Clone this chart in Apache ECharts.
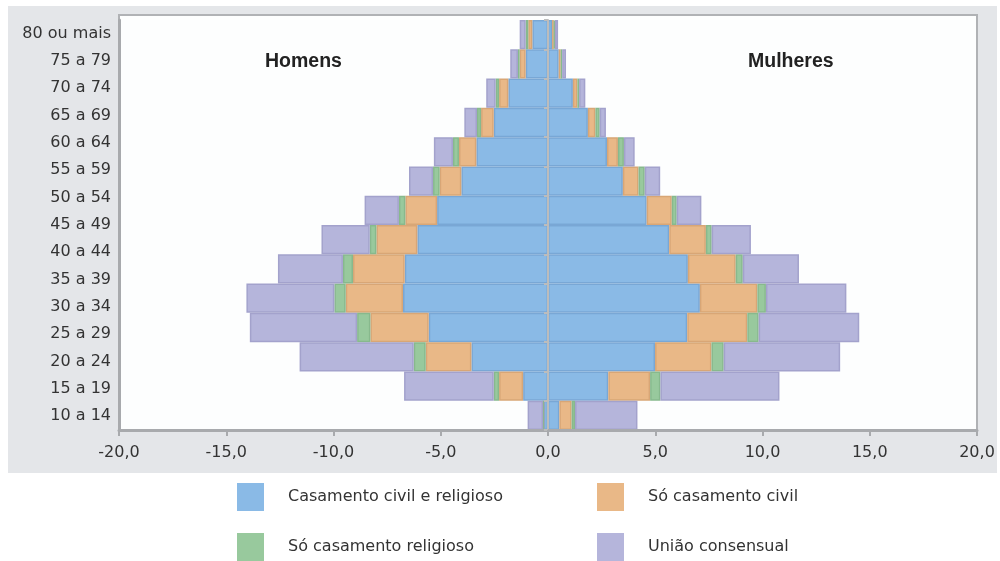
<!DOCTYPE html>
<html>
<head>
<meta charset="utf-8">
<script src="https://cdn.jsdelivr.net/npm/echarts@6/dist/echarts.min.js"></script>
<style>
html,body{margin:0;padding:0;background:#ffffff;}
#chart{width:1000px;height:561px;}
</style>
</head>
<body>
<div id="chart"></div>
<script>
// Tick labels shown on the left axis (bottom to top)
const tickLabels = ['10 a 14','15 a 19','20 a 24','25 a 29','30 a 34','35 a 39','40 a 44','45 a 49','50 a 54','55 a 59','60 a 64','65 a 69','70 a 74','75 a 79','80 ou mais'];
// Bar groups drawn (bottom to top) – the picture shows 14 bars
const barGroups = ['15 a 19','20 a 24','25 a 29','30 a 34','35 a 39','40 a 44','45 a 49','50 a 54','55 a 59','60 a 64','65 a 69','70 a 74','75 a 79','80 ou mais'];
const seriesNames = ['Casamento civil e religioso','Só casamento civil','Só casamento religioso','União consensual'];
const xTicks = [-20, 20, 5];

// Homens (%), bottom to top
const menCivilReligioso = [0.20, 1.16, 3.57, 5.56, 6.76, 6.68, 6.09, 5.17, 4.04, 3.34, 2.53, 1.85, 1.04, 0.73];
const menSoCivil        = [0.02, 1.12, 2.13, 2.72, 2.67, 2.41, 1.91, 1.48, 1.01, 0.81, 0.59, 0.43, 0.28, 0.19];
const menSoReligioso    = [0.01, 0.25, 0.56, 0.62, 0.53, 0.47, 0.31, 0.30, 0.31, 0.28, 0.19, 0.16, 0.08, 0.12];
const menConsensual     = [0.72, 4.18, 5.32, 5.00, 4.10, 3.03, 2.25, 1.60, 1.12, 0.89, 0.59, 0.44, 0.36, 0.28];
// Mulheres (%), bottom to top
const womenCivilReligioso = [0.53, 2.81, 4.99, 6.49, 7.08, 6.52, 5.65, 4.60, 3.49, 2.75, 1.86, 1.16, 0.50, 0.19];
const womenSoCivil        = [0.57, 1.95, 2.63, 2.80, 2.68, 2.23, 1.71, 1.17, 0.73, 0.51, 0.35, 0.21, 0.09, 0.08];
const womenSoReligioso    = [0.16, 0.48, 0.57, 0.53, 0.40, 0.33, 0.27, 0.23, 0.29, 0.28, 0.20, 0.08, 0.07, 0.05];
const womenConsensual     = [2.91, 5.55, 5.43, 4.69, 3.75, 2.62, 1.83, 1.15, 0.72, 0.50, 0.29, 0.29, 0.18, 0.15];

const fills   = ['#8abae6', '#e9b887', '#98c99d', '#b5b5db'];
const borders = ['#79a7d5', '#d8a676', '#87b98d', '#a3a2cc'];
const FONT = 'DejaVu Sans';

const menData = [menCivilReligioso, menSoCivil, menSoReligioso, menConsensual];
const womenData = [womenCivilReligioso, womenSoCivil, womenSoReligioso, womenConsensual];

const series = [];
function makeSeries(name, idx, data, stack) {
  return {
    name: name,
    type: 'bar',
    stack: stack,
    yAxisIndex: 1,
    barGap: '-100%',
    barCategoryGap: '0%',
    data: data,
    itemStyle: { color: fills[idx], borderColor: borders[idx], borderWidth: 1.5 },
    emphasis: { disabled: true },
    z: 2
  };
}
seriesNames.forEach((n, i) => series.push(makeSeries(n, i, menData[i].map(v => -v), 'homens')));
seriesNames.forEach((n, i) => series.push(makeSeries(n, i, womenData[i].slice(), 'mulheres')));

const legendPos = [[237, 483], [597, 483], [237, 533], [597, 533]];
const legends = seriesNames.map((n, i) => ({
  data: [n],
  left: legendPos[i][0],
  top: legendPos[i][1],
  padding: 0,
  icon: 'rect',
  itemWidth: 27,
  itemHeight: 28,
  selectedMode: false,
  itemStyle: { borderWidth: 0 },
  textStyle: { fontFamily: FONT, fontSize: 16, color: '#333333', padding: [0, 0, 0, 19] }
}));

const chart = echarts.init(document.getElementById('chart'), null, { renderer: 'canvas' });
chart.setOption({
  animation: false,
  backgroundColor: '#ffffff',
  grid: { left: 119, right: 23, top: 20, bottom: 131, containLabel: false },
  graphic: [
    { type: 'rect', z: 0, silent: true, shape: { x: 8, y: 6, width: 989, height: 467 }, style: { fill: '#e4e6e9' } },
    { type: 'rect', z: 1, silent: true, shape: { x: 119, y: 15, width: 858, height: 415 }, style: { fill: '#fdfefe', stroke: '#b0b2b5', lineWidth: 2 } },
    { type: 'text', z: 3, silent: true, style: { text: 'Homens', x: 265, y: 61.5, font: 'bold 19.5px "Liberation Sans"', fill: '#222222', textAlign: 'left', textVerticalAlign: 'middle', align: 'left', verticalAlign: 'middle' } },
    { type: 'text', z: 3, silent: true, style: { text: 'Mulheres', x: 748, y: 61.5, font: 'bold 19.5px "Liberation Sans"', fill: '#222222', textAlign: 'left', textVerticalAlign: 'middle', align: 'left', verticalAlign: 'middle' } }
  ],
  legend: legends,
  xAxis: {
    type: 'value',
    min: xTicks[0], max: xTicks[1], interval: xTicks[2],
    z: 5,
    axisLine: { show: true, onZero: false, lineStyle: { color: '#a8aaad', width: 3 } },
    axisTick: { show: true, length: 6, lineStyle: { color: '#a8aaad', width: 2 } },
    splitLine: { show: false },
    axisLabel: {
      show: true, showMinLabel: true, showMaxLabel: true, margin: 15,
      fontFamily: FONT, fontSize: 16, color: '#333333',
      formatter: v => v.toFixed(1).replace('.', ',')
    }
  },
  yAxis: [
    {
      type: 'category', data: tickLabels, position: 'left', z: 5,
      axisLine: { show: true, onZero: false, lineStyle: { color: '#a8aaad', width: 3 } },
      axisTick: { show: false },
      axisLabel: { fontFamily: FONT, fontSize: 16, color: '#333333', margin: 8 },
      splitLine: { show: false }
    },
    {
      type: 'category', data: barGroups, position: 'left', z: 5,
      axisLine: { show: true, onZero: true, lineStyle: { color: '#bcbcbc', width: 2 } },
      axisTick: { show: true, length: 4, lineStyle: { color: '#bcbcbc', width: 2 } },
      axisLabel: { show: false },
      splitLine: { show: false }
    }
  ],
  series: series
});
</script>
</body>
</html>
